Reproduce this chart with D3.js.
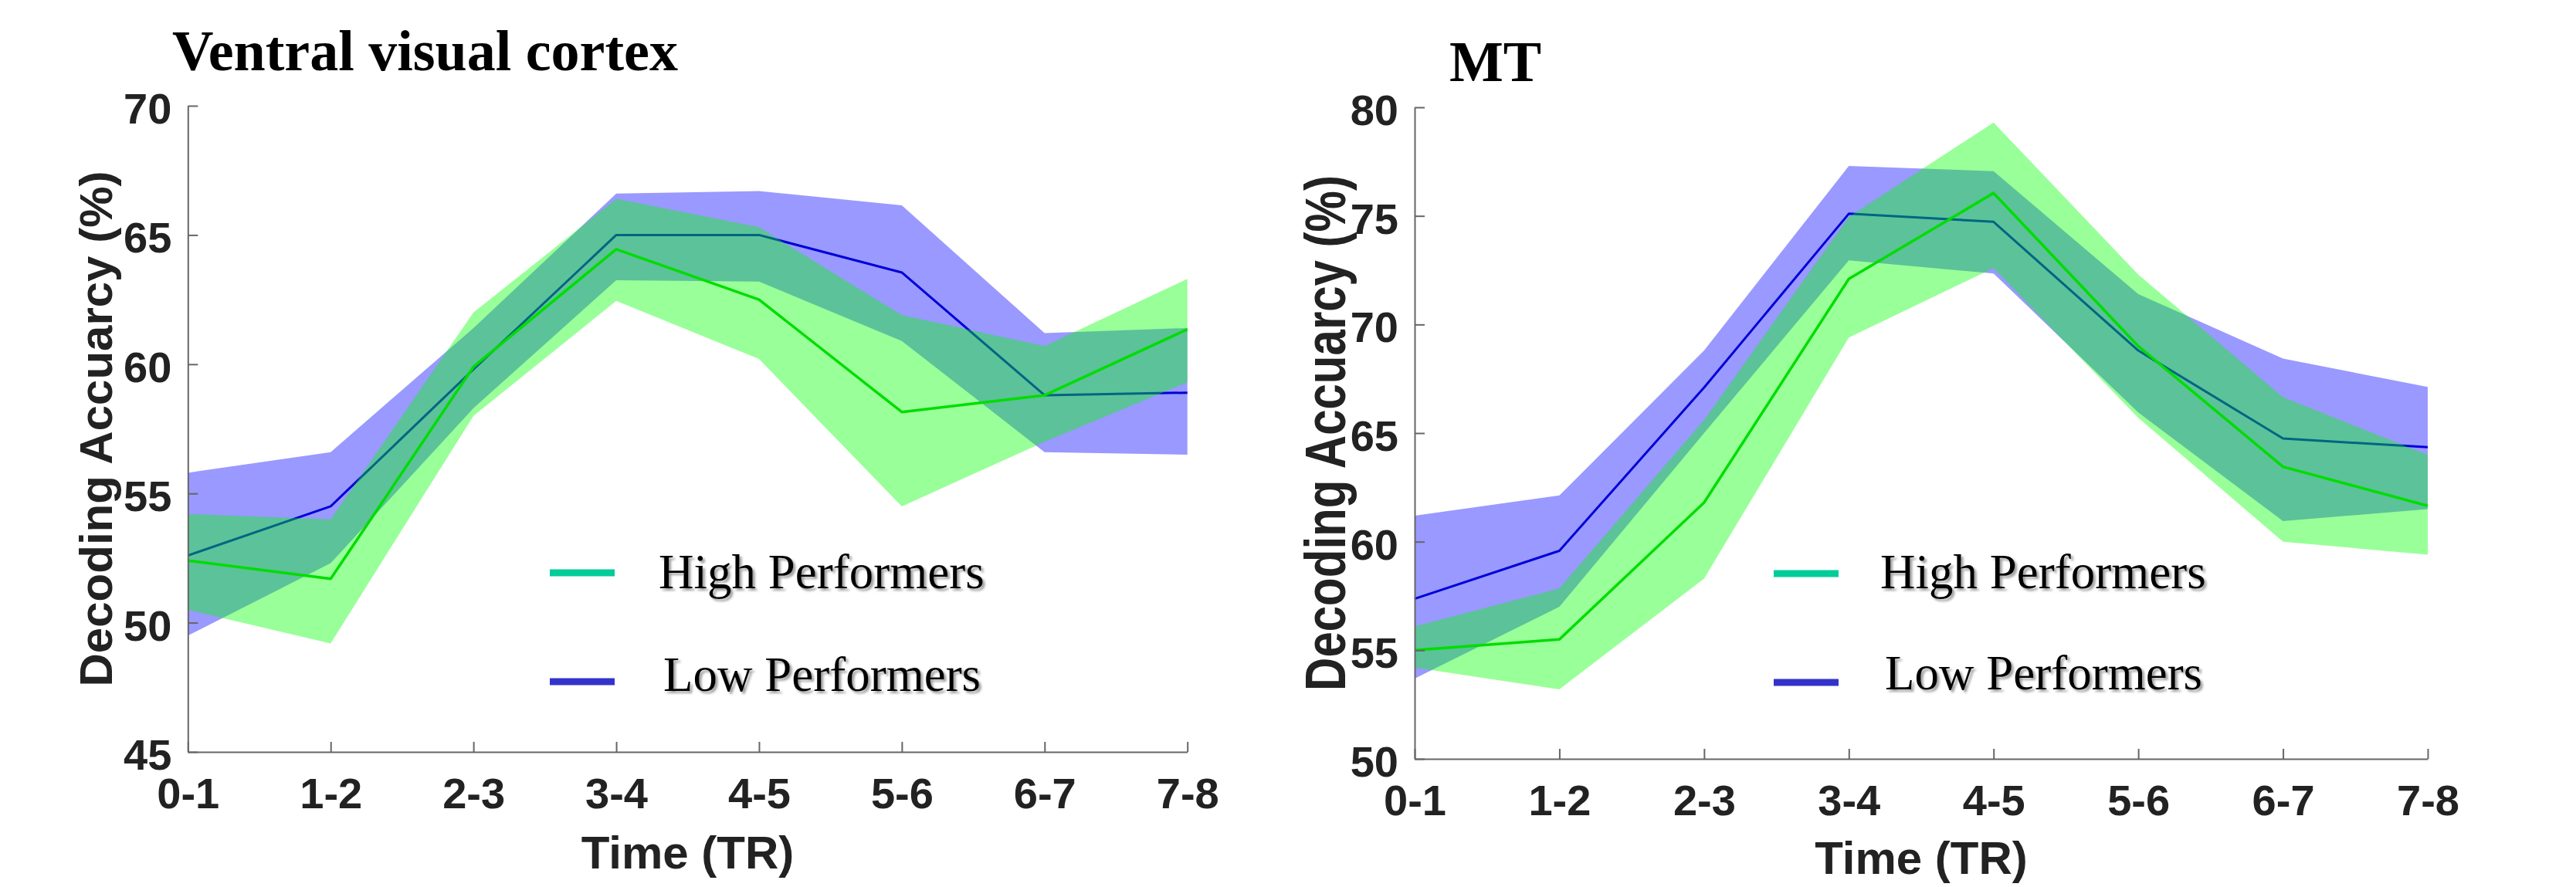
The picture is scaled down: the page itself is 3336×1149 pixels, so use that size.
<!DOCTYPE html>
<html>
<head>
<meta charset="utf-8">
<script src="https://cdn.jsdelivr.net/npm/d3@7/dist/d3.min.js"></script>
<style>
    body { margin: 0; background: #fff; }
    svg { display: block; }
</style>
</head>
<body>
<svg id="chart"></svg>
<script>
// time bins on the x axis
var timeBins = ["0-1", "1-2", "2-3", "3-4", "4-5", "5-6", "6-7", "7-8"];

// Ventral visual cortex
var ventralHighMean  = [52.4, 51.7, 59.9, 64.45, 62.5, 58.15, 58.8, 61.35];
var ventralHighUpper = [54.2, 54.0, 62.0, 66.4, 65.3, 61.9, 60.7, 63.3];
var ventralHighLower = [50.5, 49.2, 58.0, 62.45, 60.2, 54.5, 57.0, 59.3];
var ventralLowMean   = [52.6, 54.5, 59.8, 65.0, 65.0, 63.55, 58.8, 58.9];
var ventralLowUpper  = [55.8, 56.6, 61.4, 66.6, 66.7, 66.15, 61.2, 61.4];
var ventralLowLower  = [49.5, 52.3, 58.3, 63.25, 63.2, 60.9, 56.6, 56.5];

// MT
var mtHighMean  = [55.0, 55.5, 61.8, 72.1, 76.05, 69.0, 63.45, 61.65];
var mtHighUpper = [56.1, 57.85, 65.6, 74.95, 79.3, 72.3, 66.65, 64.0];
var mtHighLower = [54.2, 53.2, 58.3, 69.4, 72.6, 65.7, 60.0, 59.4];
var mtLowMean   = [57.37, 59.58, 67.1, 75.1, 74.73, 68.8, 64.75, 64.35];
var mtLowUpper  = [61.2, 62.13, 68.8, 77.3, 77.06, 71.4, 68.43, 67.12];
var mtLowLower  = [53.7, 57.0, 65.0, 72.95, 72.35, 65.95, 60.95, 61.5];

var ventralTicks = [45, 50, 55, 60, 65, 70];
var mtTicks = [50, 55, 60, 65, 70, 75, 80];

var legendLabels = ["High Performers", "Low Performers"];

var W = 3336, H = 1149;
var svg = d3.select("#chart").attr("width", W).attr("height", H);

svg.append("rect").attr("width", W).attr("height", H).attr("fill", "#fff");

// soft shadow used by the legend text
var defs = svg.append("defs");
var shadow = defs.append("filter").attr("id", "txtShadow")
    .attr("x", "-5%").attr("y", "-20%").attr("width", "115%").attr("height", "150%");
shadow.append("feDropShadow")
    .attr("dx", 3).attr("dy", 3)
    .attr("stdDeviation", 1.8)
    .attr("flood-color", "#777")
    .attr("flood-opacity", 0.7);

var panels = [
    {
        title: "Ventral visual cortex", titleX: 223, titleY: 91,
        x0: 243.3, x1: 1537.7, yTop: 137, yBot: 974,
        domain: [45, 70], ticks: ventralTicks,
        high: [ventralHighMean, ventralHighUpper, ventralHighLower],
        low: [ventralLowMean, ventralLowUpper, ventralLowLower],
        yLabelX: 145, yLabelScale: 1, xLabelY: 1125,
        legX: 712, legTextX: 853, legY: [742, 883], legTextY: [762, 895]
    },
    {
        title: "MT", titleX: 1877, titleY: 105,
        x0: 1832, x1: 3144, yTop: 139, yBot: 983,
        domain: [50, 80], ticks: mtTicks,
        high: [mtHighMean, mtHighUpper, mtHighLower],
        low: [mtLowMean, mtLowUpper, mtLowLower],
        yLabelX: 1742, yLabelScale: 1.25, xLabelY: 1132,
        legX: 2297, legTextX: 2435, legY: [743, 884], legTextY: [762, 893]
    }
];

panels.forEach(function(p) {
    var x = d3.scalePoint().domain(timeBins).range([p.x0, p.x1]);
    var y = d3.scaleLinear().domain(p.domain).range([p.yBot, p.yTop]);

    var g = svg.append("g");

    function band(series, color) {
        var rows = timeBins.map(function(t, i) {
            return {t: t, m: series[0][i], hi: series[1][i], lo: series[2][i]};
        });
        var area = d3.area()
            .x(function(d) { return x(d.t); })
            .y0(function(d) { return y(d.lo); })
            .y1(function(d) { return y(d.hi); });
        g.append("path").datum(rows)
            .attr("d", area)
            .attr("fill", color)
            .attr("fill-opacity", 0.4)
            .attr("stroke", "none");
        return rows;
    }

    function meanLine(rows, color, width) {
        var line = d3.line()
            .x(function(d) { return x(d.t); })
            .y(function(d) { return y(d.m); });
        g.append("path").datum(rows)
            .attr("d", line)
            .attr("fill", "none")
            .attr("stroke", color)
            .attr("stroke-width", width)
            .attr("stroke-linejoin", "round");
    }

    // low performers first, high performers drawn over them
    var lowRows = band(p.low, "#0000ff");
    meanLine(lowRows, "#0000d8", 3);
    var highRows = band(p.high, "#00ff00");
    meanLine(highRows, "#00dd00", 3.5);

    // axes, ticks pointing inward like matlab
    var yAxis = d3.axisLeft(y).tickValues(p.ticks)
        .tickSizeInner(-13).tickSizeOuter(0).tickPadding(21);
    var xAxis = d3.axisBottom(x)
        .tickSizeInner(-13).tickSizeOuter(0).tickPadding(33);

    var gy = g.append("g").attr("transform", "translate(" + p.x0 + ",0)").call(yAxis);
    var gx = g.append("g").attr("transform", "translate(0," + p.yBot + ")").call(xAxis);

    [gy, gx].forEach(function(ax) {
        ax.attr("font-family", "'Liberation Sans', Arial, Helvetica, sans-serif")
            .attr("font-size", 56)
            .attr("font-weight", "bold");
        ax.select(".domain").attr("stroke", "#666").attr("stroke-width", 2);
        ax.selectAll(".tick line").attr("stroke", "#666").attr("stroke-width", 2);
        ax.selectAll(".tick text").attr("fill", "#222");
    });
    gy.selectAll(".tick text").attr("dy", "0.4em");

    // axis titles
    g.append("text")
        .attr("transform", "translate(" + p.yLabelX + "," + (p.yTop + p.yBot) / 2 + ") rotate(-90) scale(1," + p.yLabelScale + ")")
        .attr("text-anchor", "middle")
        .attr("font-family", "'Liberation Sans', Arial, Helvetica, sans-serif")
        .attr("font-size", 60)
        .attr("font-weight", "bold")
        .attr("fill", "#222")
        .text("Decoding Accuarcy (%)");

    g.append("text")
        .attr("x", (p.x0 + p.x1) / 2)
        .attr("y", p.xLabelY)
        .attr("text-anchor", "middle")
        .attr("font-family", "'Liberation Sans', Arial, Helvetica, sans-serif")
        .attr("font-size", 60)
        .attr("font-weight", "bold")
        .attr("fill", "#222")
        .text("Time (TR)");

    // panel title
    svg.append("text")
        .attr("x", p.titleX)
        .attr("y", p.titleY)
        .attr("font-family", "'Liberation Serif', 'Times New Roman', serif")
        .attr("font-size", 74)
        .attr("font-weight", "bold")
        .attr("fill", "#000")
        .text(p.title);

    // legend
    var legColors = ["#00cc99", "#3333cc"];
    legendLabels.forEach(function(lbl, i) {
        g.append("line")
            .attr("x1", p.legX).attr("x2", p.legX + 84)
            .attr("y1", p.legY[i]).attr("y2", p.legY[i])
            .attr("stroke", legColors[i])
            .attr("stroke-width", 9);
        g.append("text")
            .attr("x", p.legTextX + (i === 1 ? 6 : 0))
            .attr("y", p.legTextY[i])
            .attr("font-family", "'Liberation Serif', 'Times New Roman', serif")
            .attr("font-size", 63)
            .attr("fill", "#000")
            .attr("filter", "url(#txtShadow)")
            .text(lbl);
    });
});
</script>
</body>
</html>
